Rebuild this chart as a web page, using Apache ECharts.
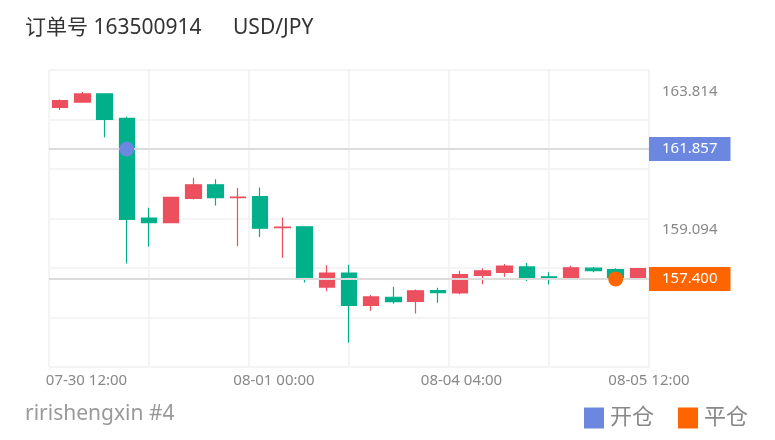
<!DOCTYPE html>
<html>
<head>
<meta charset="utf-8">
<script src="https://cdn.jsdelivr.net/npm/echarts@6/dist/echarts.min.js"></script>
<style>
html,body{margin:0;padding:0;background:#fff;}
#main{width:775px;height:440px;}
</style>
</head>
<body>
<div id="main"></div>
<script>
// K线数据 (开, 收, 低, 高)
var openVals  = [163.29,163.47,163.75,162.91,159.49,159.33,160.16,160.63,160.19,160.23,159.16,159.19,157.12,157.60,156.49,156.77,156.63,157.00,156.92,157.52,157.62,157.81,157.47,157.42,157.77,157.72,157.42];
var closeVals = [163.52,163.75,162.88,159.44,159.33,160.20,160.63,160.19,160.21,159.14,159.18,157.41,157.60,156.49,156.78,156.62,156.99,156.93,157.55,157.68,157.84,157.45,157.43,157.78,157.68,157.41,157.75];
var lowVals   = [163.20,163.45,162.26,157.93,158.50,159.32,160.13,159.92,158.52,158.84,158.13,157.28,156.98,155.21,156.31,156.55,156.21,156.58,156.87,157.22,157.47,157.33,157.21,157.40,157.63,157.38,157.37];
var highVals  = [163.56,163.814,163.76,162.97,159.84,160.21,160.87,160.82,160.52,160.54,159.51,159.19,157.87,157.89,156.85,157.13,157.04,157.10,157.68,157.77,157.91,157.95,157.63,157.85,157.81,157.77,157.77];

var xTickLabels = ['07-30 12:00','08-01 00:00','08-04 04:00','08-05 12:00'];
var levelLabels = [163.814, 159.094];
var openPrice = 161.857, openIdx = 3;
var closePrice = 157.400, closeIdx = 25;

var cats = [], kData = [];
for (var i = 0; i < openVals.length; i++) {
    cats.push(String(i + 1));
    kData.push([openVals[i], closeVals[i], lowVals[i], highVals[i]]);
}
// 底部时间标签槽位
var slots = [];
for (var s = 0; s <= 16; s++) slots.push('');
for (var t = 0; t < xTickLabels.length; t++) slots[1 + t * 5] = xTickLabels[t];

var FONT = 'Noto Sans, Noto Sans CJK SC, sans-serif';

function lvlLabel(v, color, bg) {
    return {
        show: true, position: 'end', distance: 0,
        formatter: function () { return v.toFixed(3); },
        color: color, backgroundColor: bg || 'transparent', fontSize: 15, lineHeight: 16,
        padding: [4, 13, 4, 13], fontFamily: FONT
    };
}

var myChart = echarts.init(document.getElementById('main'));
var option = {
    animation: false,
    backgroundColor: '#fff',
    textStyle: { fontFamily: FONT },
    title: [
        { text: '订单号 163500914', left: 20, top: 13, textStyle: { fontSize: 21, fontWeight: 'normal', color: '#333', fontFamily: FONT } },
        { text: 'USD/JPY', left: 228, top: 13, textStyle: { fontSize: 21, fontWeight: 'normal', color: '#333', fontFamily: FONT } },
        { text: 'ririshengxin #4', left: 20, top: 399, textStyle: { fontSize: 21, fontWeight: 'normal', color: '#999', fontFamily: FONT } }
    ],
    legend: {
        data: [{ name: '开仓', icon: 'rect' }, { name: '平仓', icon: 'rect' }],
        right: 22, top: 402,
        itemWidth: 20, itemHeight: 21, itemGap: 24,
        textStyle: { fontSize: 22, color: '#888', fontFamily: FONT, padding: [0, 0, 0, 1] }
    },
    grid: { left: 49, top: 70, width: 600, height: 297 },
    xAxis: [
        {
            type: 'category', data: cats, boundaryGap: true,
            axisLine: { show: false }, axisTick: { show: false },
            axisLabel: { show: false }, splitLine: { show: false }
        },
        {
            type: 'category', data: slots, boundaryGap: false, position: 'bottom',
            axisLine: { show: false }, axisTick: { show: false },
            axisLabel: { interval: 0, color: '#888', fontSize: 15, margin: 6, fontFamily: FONT },
            splitLine: { show: false }
        },
        {
            type: 'value', min: 0, max: 6, interval: 1, position: 'top',
            axisLine: { show: false }, axisTick: { show: false }, axisLabel: { show: false },
            splitLine: { show: true, lineStyle: { color: '#f1f1f1', width: 1.5 } }
        }
    ],
    yAxis: [
        {
            type: 'value', min: 154.376, max: 164.572, scale: true,
            axisLine: { show: false }, axisTick: { show: false },
            axisLabel: { show: false }, splitLine: { show: false }
        },
        {
            type: 'value', min: 0, max: 6, interval: 1, position: 'right',
            axisLine: { show: false }, axisTick: { show: false }, axisLabel: { show: false },
            splitLine: { show: true, lineStyle: { color: '#f1f1f1', width: 1.5 } }
        }
    ],
    series: [
        {
            type: 'candlestick',
            data: kData,
            barWidth: 16,
            itemStyle: {
                color: '#ec4f5e', color0: '#00b08b',
                borderColor: '#ec4f5e', borderColor0: '#00b08b',
                borderWidth: 1.2
            },
            markLine: {
                symbol: 'none',
                silent: true,
                data: [
                    { yAxis: openPrice, lineStyle: { color: '#dcdcdc', width: 2, type: 'solid' }, label: lvlLabel(openPrice, '#fff', '#6b87e0') },
                    { yAxis: closePrice, lineStyle: { color: '#dcdcdc', width: 2, type: 'solid' }, label: lvlLabel(closePrice, '#fff', '#fe6500') },
                    { yAxis: levelLabels[0], lineStyle: { color: 'rgba(0,0,0,0)', width: 0 }, label: lvlLabel(levelLabels[0], '#888') },
                    { yAxis: levelLabels[1], lineStyle: { color: 'rgba(0,0,0,0)', width: 0 }, label: lvlLabel(levelLabels[1], '#888') }
                ]
            }
        },
        {
            name: '开仓', type: 'scatter', symbolSize: 15, z: 5,
            itemStyle: { color: '#6b87e0', opacity: 1 },
            data: [[cats[openIdx], openPrice]]
        },
        {
            name: '平仓', type: 'scatter', symbolSize: 15, z: 5,
            itemStyle: { color: '#fe6500', opacity: 1 },
            data: [[cats[closeIdx], closePrice]]
        }
    ]
};
myChart.setOption(option);
</script>
</body>
</html>
